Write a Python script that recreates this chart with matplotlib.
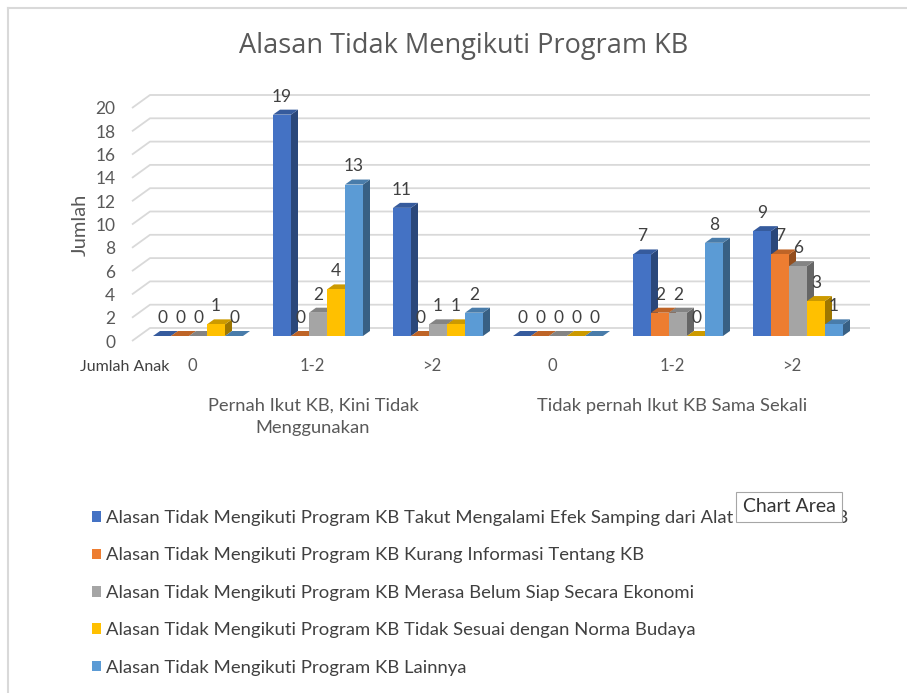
import matplotlib
matplotlib.use("Agg")
import matplotlib.pyplot as plt
from matplotlib.patches import Polygon
from matplotlib.lines import Line2D
import numpy as np

plt.rcParams['font.family'] = ['Lato', 'DejaVu Sans']

# ---------------- data ----------------
categories = ["0", "1-2", ">2", "0", "1-2", ">2"]
groups = ["Pernah Ikut KB, Kini Tidak\nMenggunakan", "Tidak pernah Ikut KB Sama Sekali"]
series_names = [
    "Alasan Tidak Mengikuti Program KB Takut Mengalami Efek Samping dari Alat atau Obat KB",
    "Alasan Tidak Mengikuti Program KB Kurang Informasi Tentang KB",
    "Alasan Tidak Mengikuti Program KB Merasa Belum Siap Secara Ekonomi",
    "Alasan Tidak Mengikuti Program KB Tidak Sesuai dengan Norma Budaya",
    "Alasan Tidak Mengikuti Program KB Lainnya",
]
takut_efek = [0, 19, 11, 0, 7, 9]
kurang_info = [0, 0, 0, 0, 2, 7]
belum_siap = [0, 2, 1, 0, 2, 6]
norma_budaya = [1, 4, 1, 0, 0, 3]
lainnya = [0, 13, 2, 0, 8, 1]
series_values = [takut_efek, kurang_info, belum_siap, norma_budaya, lainnya]
colors = ["#4472C4", "#ED7D31", "#A5A5A5", "#FFC000", "#5B9BD5"]
yticks = list(range(0, 21, 2))

# ---------------- figure ----------------
W, H = 907, 693
fig = plt.figure(figsize=(W / 100, H / 100), dpi=100)

def fx(px):
    return px / W

def fy(py):
    return 1 - py / H

# border lines (top and left)
fig.add_artist(Line2D([fx(8), fx(8)], [fy(8), 0], color="#D9D9D9", lw=1.5))
fig.add_artist(Line2D([fx(8), 1], [fy(8), fy(8)], color="#D9D9D9", lw=1.5))

ax = fig.add_axes([fx(132), fy(341), (852 - 132) / W, (341 - 108) / H])
ax.set_xlim(-0.5, 5.5)
ax.set_ylim(0, 20)
for s in ax.spines.values():
    s.set_visible(False)

pxx = 120.0           # pixels per category
pxy = 233.0 / 20      # pixels per unit
dxw, dyw = 18 / pxx, 13 / pxy      # wall depth
ox, oy = 6 / pxx, 5 / pxy          # bar front offset
ddx, ddy = 7 / pxx, 5 / pxy        # bar depth
w = 0.15

# gridlines with 3D diagonal
for v in yticks:
    ax.plot([-0.5, -0.5 + dxw, 5.5 + dxw], [v, v + dyw, v + dyw],
            color="#D9D9D9", lw=1.3, clip_on=False, zorder=1, solid_capstyle='butt')

def shade(c, f):
    r, g, b = matplotlib.colors.to_rgb(c)
    return (r * f, g * f, b * f)

x = np.arange(len(categories))
handles = []
for ci in range(len(categories)):
    for si, vals in enumerate(series_values):
        v = vals[ci]
        c = colors[si]
        xc = x[ci] + ox + (si - 2) * w
        xl, xr = xc - w / 2, xc + w / 2
        z = 3 + ci * 10 + si
        side = Polygon([(xr, oy), (xr + ddx, oy + ddy), (xr + ddx, oy + v + ddy), (xr, oy + v)],
                       closed=True, facecolor=shade(c, 0.62), edgecolor='none', zorder=z, clip_on=False)
        top = Polygon([(xl, oy + v), (xl + ddx, oy + v + ddy), (xr + ddx, oy + v + ddy), (xr, oy + v)],
                      closed=True, facecolor=shade(c, 0.8), edgecolor='none', zorder=z, clip_on=False)
        ax.add_patch(side)
        ax.add_patch(top)
        b = ax.bar(xc, v, width=w, bottom=oy, color=c, zorder=z, clip_on=False)
        if ci == 0:
            handles.append(b)
        ax.annotate(str(v), (xc, oy + v), xytext=(0, 13), textcoords='offset points',
                    ha='center', va='center', fontsize=12.5, color="#404040", zorder=100,
                    annotation_clip=False)

ax.set_yticks(yticks)
ax.set_yticklabels([str(t) for t in yticks], fontsize=12.5, color="#595959")
ax.set_xticks(x)
ax.set_xticklabels(categories, fontsize=12, color="#595959")
ax.tick_params(axis='y', length=0, pad=12)
ax.tick_params(axis='x', length=0, pad=12)
ax.set_ylabel("Jumlah", fontsize=14.5, color="#595959", labelpad=5)

# axis titles / group labels
fig.text(fx(80), fy(367), "Jumlah Anak", fontsize=11.5, color="#404040", ha='left', va='center')
fig.text(fx(313), fy(398), groups[0], fontsize=13.2, color="#595959", ha='center', va='top',
         linespacing=1.45)
fig.text(fx(672), fy(398), groups[1], fontsize=13.2, color="#595959", ha='center', va='top')

# title
fig.text(fx(464), fy(46), "Alasan Tidak Mengikuti Program KB", fontsize=19.5, color="#595959",
         ha='center', va='center', family=['Open Sans', 'DejaVu Sans'])

# legend
leg = fig.legend(handles, series_names, loc='upper left', bbox_to_anchor=(fx(92), fy(510)),
                 frameon=False, fontsize=13.3, labelcolor="#404040", handlelength=0.5,
                 handleheight=0.5, handletextpad=0.25, labelspacing=1.16, borderpad=0,
                 borderaxespad=0)

# tooltip
fig.text(fx(789), fy(507), "Chart Area", fontsize=14, color="#333333", ha='center', va='center',
         bbox=dict(boxstyle='square,pad=0.35', facecolor='white', edgecolor='#A6A6A6', lw=0.8),
         zorder=200)

fig.savefig("out.png", dpi=100, facecolor='white')
